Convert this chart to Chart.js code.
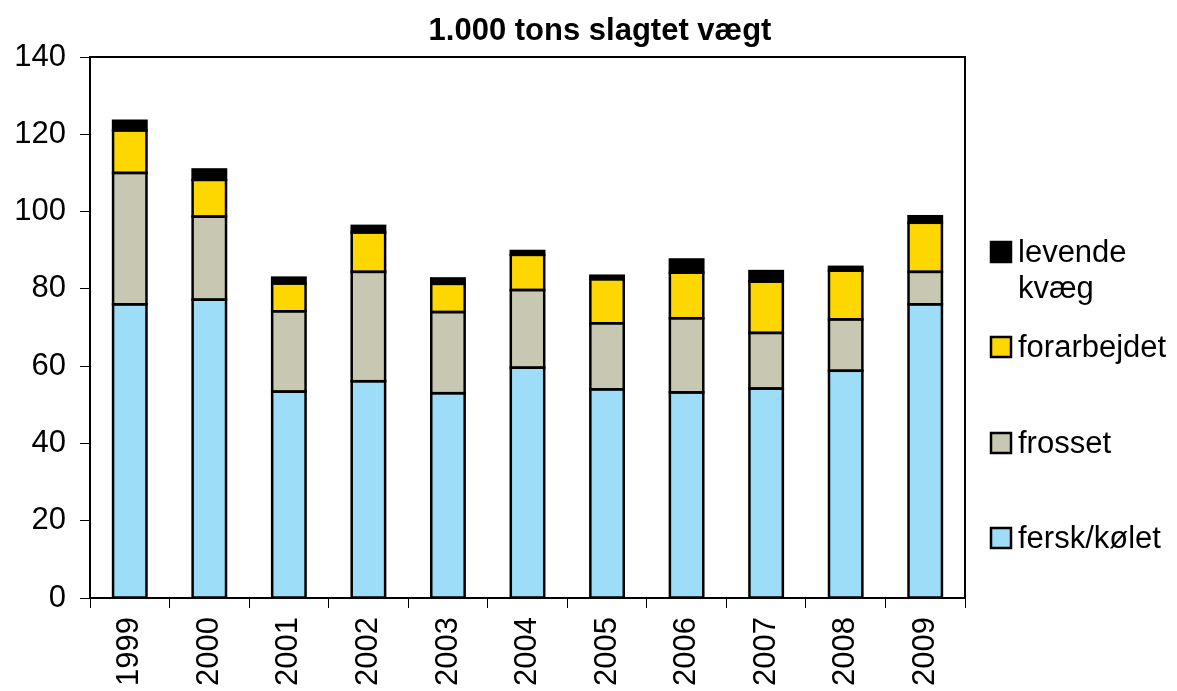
<!DOCTYPE html>
<html>
<head>
<meta charset="utf-8">
<script src="https://cdn.jsdelivr.net/npm/chart.js@4/dist/chart.umd.min.js"></script>
<style>
  html, body { margin: 0; padding: 0; background: #fff; }
  #wrap { width: 1177px; height: 691px; }
</style>
</head>
<body>
<div id="wrap"><canvas id="chart"></canvas></div>
<script>
const years = ['1999', '2000', '2001', '2002', '2003', '2004', '2005', '2006', '2007', '2008', '2009'];
const ferskKolet  = [76.0, 77.2, 53.4, 56.1, 53.0, 59.6, 54.0, 53.2, 54.2, 58.8, 76.0];
const frosset     = [34.0, 21.5, 20.8, 28.3, 21.0, 20.1, 17.1, 19.2, 14.4, 13.3, 8.4];
const forarbejdet = [11.0, 9.5, 7.2, 10.2, 7.3, 9.1, 11.4, 11.8, 13.3, 12.6, 12.7];
const levendeKvaeg = [2.5, 2.7, 1.5, 1.7, 1.4, 1.0, 0.9, 3.4, 2.7, 1.0, 1.7];
const yTicks = [0, 20, 40, 60, 80, 100, 120, 140];
const titleText = '1.000 tons slagtet vægt';

const FONT = 'Arial, "Liberation Sans", sans-serif';

// sort kant om hvert segment (fælles kanter tegnes kun én gang)
const segmentOutline = {
    id: 'segmentOutline',
    afterDatasetsDraw(chart) {
        const ctx = chart.ctx;
        ctx.save();
        ctx.strokeStyle = '#000';
        ctx.lineWidth = 2.5;
        chart.data.datasets.forEach((ds, i) => {
            chart.getDatasetMeta(i).data.forEach(bar => {
                const p = bar.getProps(['x', 'y', 'base', 'width'], true);
                const top = Math.min(p.y, p.base), h = Math.abs(p.base - p.y);
                ctx.strokeRect(p.x - p.width / 2, top, p.width, h);
            });
        });
        ctx.restore();
    }
};

// titel, ramme om plotområdet og legende til højre
const boxAndLegend = {
    id: 'boxAndLegend',
    afterDraw(chart) {
        const ctx = chart.ctx;
        const a = chart.chartArea;
        ctx.save();
        ctx.fillStyle = '#000';
        ctx.font = 'bold 31px ' + FONT;
        ctx.textAlign = 'center';
        ctx.textBaseline = 'middle';
        ctx.fillText(titleText, 600, 31);

        ctx.strokeStyle = '#000';
        ctx.lineWidth = 2;
        ctx.strokeRect(a.left, a.top, a.right - a.left, a.bottom - a.top);

        // legende (omvendt rækkefølge)
        const items = [
            { ds: 3, lines: ['levende', 'kvæg'], y: 252 },
            { ds: 2, lines: ['forarbejdet'], y: 347 },
            { ds: 1, lines: ['frosset'], y: 443 },
            { ds: 0, lines: ['fersk/kølet'], y: 538 }
        ];
        ctx.font = '31px ' + FONT;
        ctx.textAlign = 'left';
        items.forEach(it => {
            const ds = chart.data.datasets[it.ds];
            ctx.fillStyle = ds.backgroundColor;
            ctx.fillRect(991, it.y - 10, 20, 20);
            ctx.lineWidth = 2.5;
            ctx.strokeStyle = '#000';
            ctx.strokeRect(991, it.y - 10, 20, 20);
            ctx.fillStyle = '#000';
            it.lines.forEach((t, i) => ctx.fillText(t, 1018, it.y + 1 + i * 36));
        });
        ctx.restore();
    }
};

const ctx = document.getElementById('chart').getContext('2d');
const commonBar = { borderWidth: 0, barPercentage: 0.42, categoryPercentage: 1 };

new Chart(ctx, {
    type: 'bar',
    data: {
        labels: years,
        datasets: [
            Object.assign({ label: 'fersk/kølet', data: ferskKolet, backgroundColor: '#9EDDF7' }, commonBar),
            Object.assign({ label: 'frosset', data: frosset, backgroundColor: '#C8C8B2' }, commonBar),
            Object.assign({ label: 'forarbejdet', data: forarbejdet, backgroundColor: '#FFD700' }, commonBar),
            Object.assign({ label: 'levende kvæg', data: levendeKvaeg, backgroundColor: '#000000' }, commonBar)
        ]
    },
    options: {
        responsive: true,
        maintainAspectRatio: false,
        animation: false,
        layout: { padding: { left: 0, right: 212, top: 57, bottom: 0 } },
        plugins: {
            legend: { display: false },
            tooltip: { enabled: false },
            title: { display: false }
        },
        scales: {
            x: {
                stacked: true,
                afterFit: s => { s.height = 93; },
                border: { color: '#000', width: 2 },
                grid: { display: true, drawOnChartArea: false, offset: true, tickLength: 10, color: '#000', lineWidth: 1 },
                ticks: {
                    autoSkip: false, minRotation: 90, maxRotation: 90, padding: 9,
                    color: '#000', font: { family: FONT, size: 31 }
                }
            },
            y: {
                stacked: true,
                min: 0,
                max: 140,
                afterFit: s => { s.width = 90; },
                afterBuildTicks: s => { s.ticks = yTicks.map(v => ({ value: v })); },
                border: { color: '#000', width: 2 },
                grid: { display: true, drawOnChartArea: false, tickLength: 10, color: '#000', lineWidth: 1 },
                ticks: { padding: 14, color: '#000', font: { family: FONT, size: 31 } }
            }
        }
    },
    plugins: [segmentOutline, boxAndLegend]
});
</script>
</body>
</html>
